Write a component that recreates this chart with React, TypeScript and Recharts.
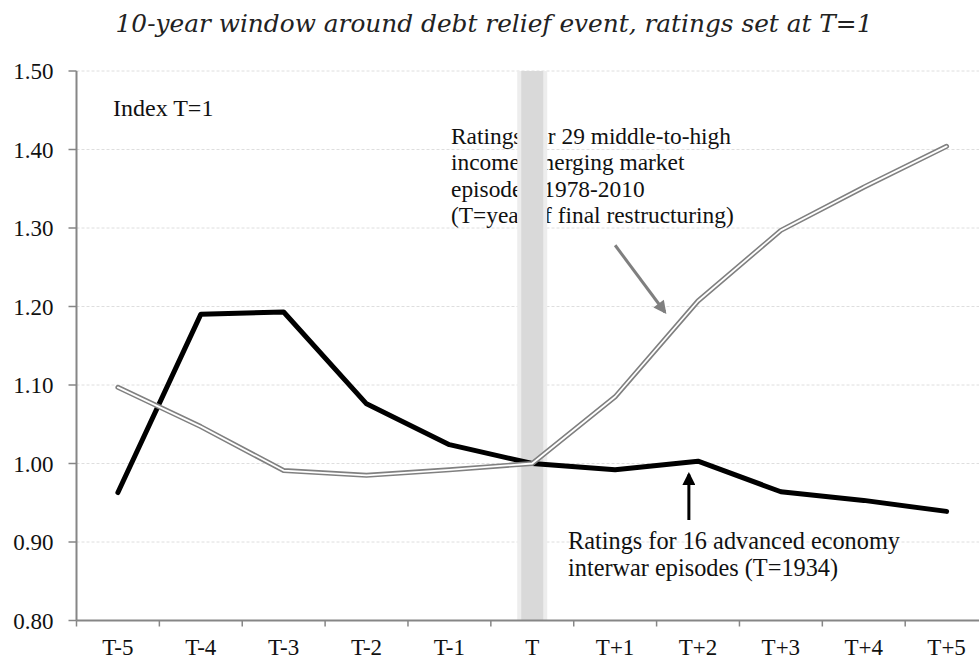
import { CartesianGrid, Customized, Line, LineChart, ReferenceLine, XAxis, YAxis } from 'recharts';

const periods = ['T-5', 'T-4', 'T-3', 'T-2', 'T-1', 'T', 'T+1', 'T+2', 'T+3', 'T+4', 'T+5'];
const advanced = [0.963, 1.19, 1.193, 1.076, 1.024, 1.0, 0.992, 1.003, 0.964, 0.953, 0.939];
const emerging = [1.097, 1.047, 0.991, 0.985, 0.992, 1.0, 1.085, 1.207, 1.297, 1.352, 1.404];
const yTicks = [0.8, 0.9, 1.0, 1.1, 1.2, 1.3, 1.4, 1.5];

const emNote = [
  'Ratings for 29 middle-to-high',
  'income emerging market',
  'episodes, 1978-2010',
  '(T=year of final restructuring)',
];
const advNote = ['Ratings for 16 advanced economy', 'interwar episodes (T=1934)'];

const data = periods.map((p, i) => ({ period: p, advanced: advanced[i], emerging: emerging[i] }));

const AXIS = '#868686';
const SERIF = '"Liberation Serif", "Times New Roman", serif';
const HALF_BAND = 41.4;

function PeriodTick(props: { x?: number; y?: number; payload?: { value: string } }) {
  const { x = 0, y = 0, payload } = props;
  return (
    <g>
      <line x1={x - HALF_BAND} x2={x - HALF_BAND} y1={y - 18} y2={y - 12} stroke={AXIS} strokeWidth={1.5} />
      <text x={x} y={y} dy="0.71em" textAnchor="middle" fontSize={23} fontFamily={SERIF} fill="#111">
        {payload?.value}
      </text>
    </g>
  );
}

function Notes() {
  return (
    <g>
      <defs>
        <marker id="headGray" viewBox="0 0 10 10" refX="8" refY="5" markerUnits="userSpaceOnUse" markerWidth="15" markerHeight="13" orient="auto">
          <path d="M0,0 L10,5 L0,10 z" fill="#7f7f7f" />
        </marker>
        <marker id="headBlack" viewBox="0 0 10 10" refX="8" refY="5" markerUnits="userSpaceOnUse" markerWidth="15" markerHeight="13" orient="auto">
          <path d="M0,0 L10,5 L0,10 z" fill="#000" />
        </marker>
      </defs>
      <text x={494} y={32} textAnchor="middle" fontSize={24.8} fontStyle="italic" fontFamily='"DejaVu Serif", serif' fill="#222">
        10-year window around debt relief event, ratings set at T=1
      </text>
      <text x={113} y={116} fontSize={24} fontFamily={SERIF} fill="#111">Index T=1</text>
      <text fontSize={23.4} fontFamily={SERIF} fill="#111">
        {emNote.map((s, i) => (
          <tspan key={s} x={451} y={143.5 + i * 26.5}>{s}</tspan>
        ))}
      </text>
      <text fontSize={24.3} fontFamily={SERIF} fill="#111">
        {advNote.map((s, i) => (
          <tspan key={s} x={568} y={549 + i * 26.5}>{s}</tspan>
        ))}
      </text>
    </g>
  );
}

export default function App() {
  return (
    <div style={{ position: 'absolute', left: 0, top: 0, width: 979, height: 659, overflow: 'hidden', background: '#fff' }}>
      <LineChart width={1000} height={659} data={data} margin={{ top: 71, right: 12, bottom: 0, left: 0 }}>
        <CartesianGrid horizontal vertical={false} stroke="#dedede" strokeDasharray="3 2" />
        <XAxis
          dataKey="period"
          interval={0}
          height={38.5}
          padding={{ left: HALF_BAND, right: HALF_BAND }}
          tickLine={false}
          tickSize={0}
          tickMargin={18}
          axisLine={{ stroke: AXIS, strokeWidth: 2 }}
          tick={<PeriodTick />}
        />
        <XAxis
          xAxisId="num"
          type="number"
          domain={[0, 10]}
          padding={{ left: HALF_BAND, right: HALF_BAND }}
          allowDataOverflow
          hide
        />
        <YAxis
          domain={[0.8, 1.5]}
          ticks={yTicks}
          width={76.5}
          tickSize={8}
          tickMargin={15}
          tickFormatter={(v: number) => v.toFixed(2)}
          axisLine={{ stroke: AXIS, strokeWidth: 2 }}
          tickLine={{ stroke: AXIS, strokeWidth: 1.5 }}
          tick={{ fontSize: 23, fontFamily: SERIF, fill: '#111' }}
        />
        <ReferenceLine x="T" stroke="#ededed" strokeWidth={30} />
        <ReferenceLine x="T" stroke="#d9d9d9" strokeWidth={22} />
        <Line dataKey="advanced" stroke="#000" strokeWidth={5} dot={false} strokeLinecap="round" strokeLinejoin="round" isAnimationActive={false} />
        <Line dataKey="emerging" stroke="#808080" strokeWidth={5} dot={false} strokeLinecap="round" strokeLinejoin="round" isAnimationActive={false} />
        <Line dataKey="emerging" stroke="#fff" strokeWidth={1.8} dot={false} strokeLinecap="round" strokeLinejoin="round" isAnimationActive={false} />
        <ReferenceLine
          xAxisId="num"
          segment={[{ x: 6.0, y: 1.278 }, { x: 6.6, y: 1.193 }]}
          shape={(p: any) => (
            <line x1={p.x1} y1={p.y1} x2={p.x2} y2={p.y2} stroke="#7f7f7f" strokeWidth={3} markerEnd="url(#headGray)" />
          )}
        />
        <ReferenceLine
          xAxisId="num"
          segment={[{ x: 6.89, y: 0.928 }, { x: 6.89, y: 0.986 }]}
          shape={(p: any) => (
            <line x1={p.x1} y1={p.y1} x2={p.x2} y2={p.y2} stroke="#000" strokeWidth={3} markerEnd="url(#headBlack)" />
          )}
        />
        <Customized component={<Notes />} />
      </LineChart>
    </div>
  );
}
